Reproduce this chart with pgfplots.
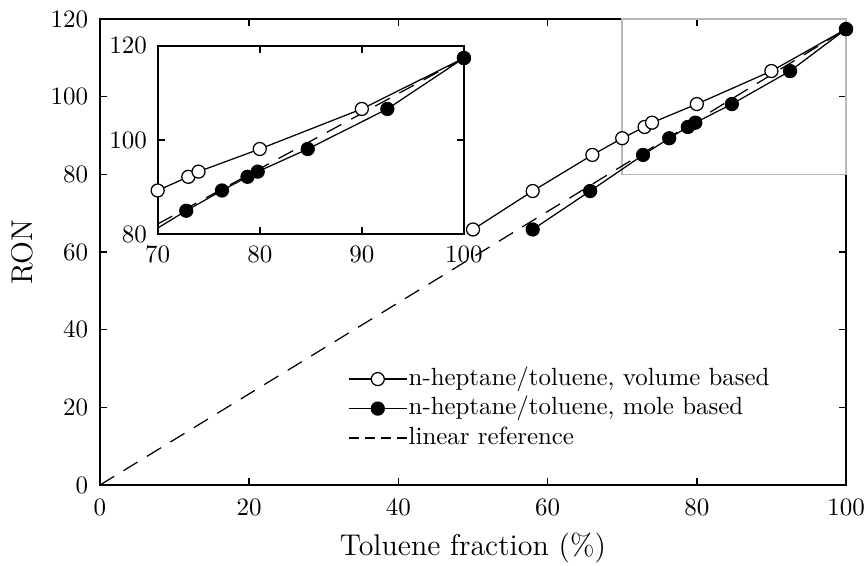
\documentclass[border=0pt]{standalone}
\usepackage{pgfplots}
\pgfplotsset{compat=1.18}
\begin{document}
\begin{tikzpicture}
\pgfplotsset{
  every axis/.append style={
    tick align=inside,
    axis line style={line width=0.8pt},
    every tick/.style={black, line width=0.6pt},
    major tick length=2.8pt,
    tick label style={font=\normalsize},
  },
  datal/.style={black, line width=0.5pt, mark=*, mark size=2.6pt},
  refl/.style={black, line width=0.5pt, dash pattern=on 6.6pt off 4.4pt},
}
\begin{axis}[name=main, scale only axis, width=298.4pt, height=186.4pt,
  xmin=0, xmax=100, ymin=0, ymax=120,
  xtick={0,20,...,100}, ytick={0,20,...,120},
  xticklabel style={yshift=-2.4pt},
  yticklabel style={xshift=-1.2pt},
  xlabel={Toluene fraction (\%)}, ylabel={RON},
  label style={font=\large},
  legend style={draw=none, fill=none, inner sep=0pt, at={(axis cs:33.2,31.2)}, anchor=north west, row sep=0pt,
    font=\fontsize{9.95}{12}\selectfont,
    nodes={inner sep=0.5pt, text height=7.8pt, text depth=3.0pt}},
  legend cell align=left,
  legend image code/.code={\draw[mark repeat=2,mark phase=2,#1] plot coordinates {(0pt,0pt) (11.6pt,0pt) (23.2pt,0pt)};},
  clip=false,
]
\draw[gray!55, line width=0.6pt] (axis cs:70,80) rectangle (axis cs:100,120);
\addplot[refl, forget plot] coordinates {(0,0) (100,117.4)};
\addplot[datal, mark options={fill=white}] coordinates {
(50,65.8) (58,75.7) (66,85.0) (70,89.3) (73,92.2) (74,93.3) (80,98.1) (90,106.6) (100,117.4)};
\addlegendentry{n-heptane/toluene, volume based}
\addplot[datal, mark options={fill=black}] coordinates {
(58,65.8) (65.7,75.7) (72.8,85.0) (76.3,89.3) (78.8,92.2) (79.8,93.3) (84.7,98.1) (92.5,106.6) (100,117.4)};
\addlegendentry{n-heptane/toluene, mole based}
\addlegendimage{black, line width=0.5pt, dash pattern=on 4pt off 2.4pt}
\addlegendentry{linear reference}
\coordinate (insetSW) at (axis cs:7.73,64.56);
\end{axis}
\begin{axis}[name=inset, at={(insetSW)}, anchor=south west, scale only axis, width=122.5pt, height=75.4pt,
  xmin=70, xmax=100, ymin=80, ymax=120,
  xtick={70,80,90,100}, ytick={80,100,120},
  xticklabel style={yshift=-1.2pt},
  yticklabel style={xshift=-0.8pt},
  axis background/.style={fill=white},
  clip=false,
]
\addplot[refl] coordinates {(70,82.18) (100,117.4)};
\addplot[black, line width=0.5pt] coordinates {(70,81.33) (72.8,85.0)};
\addplot[datal, mark options={fill=white}] coordinates {
(70,89.3) (73,92.2) (74,93.3) (80,98.1) (90,106.6) (100,117.4)};
\addplot[datal, mark options={fill=black}] coordinates {
(72.8,85.0) (76.3,89.3) (78.8,92.2) (79.8,93.3) (84.7,98.1) (92.5,106.6) (100,117.4)};
\end{axis}
\pgfresetboundingbox
\path[use as bounding box] ([shift={(-40pt,-32pt)}]main.south west) rectangle ([shift={(8.8pt,7.6pt)}]main.north east);
\end{tikzpicture}
\end{document}
